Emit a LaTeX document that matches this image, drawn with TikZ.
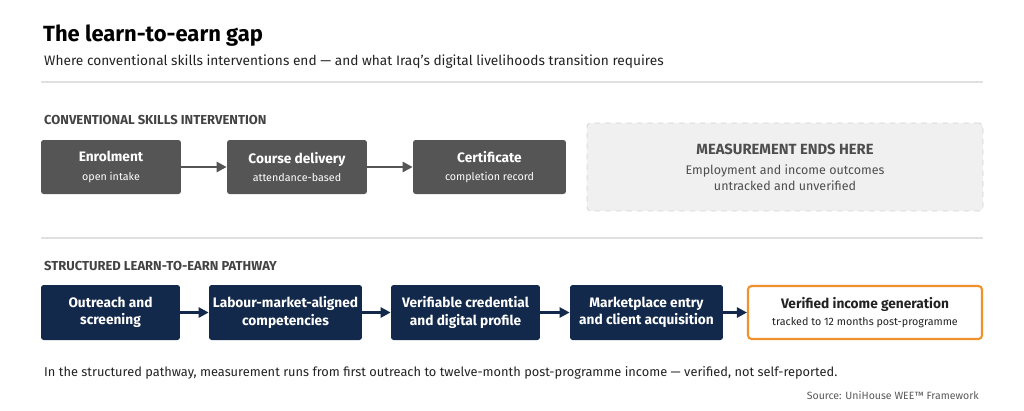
\documentclass[tikz,border=0pt]{standalone}
\usepackage{fontspec}
\setmainfont{Fira Sans}
\usetikzlibrary{arrows.meta, positioning}
\definecolor{navy}{HTML}{13294B}
\definecolor{slate}{HTML}{555555}
\definecolor{amber}{HTML}{F0922B}
\definecolor{ink}{HTML}{222222}
\newcommand\steptitle[1]{{\fontsize{7.8}{9}\selectfont\bfseries #1}}
\newcommand\stepnote[1]{{\fontsize{6.1}{7}\selectfont #1}}
\begin{document}
\begin{tikzpicture}[x=0.02cm, y=-0.02cm,
    greybox/.style={rectangle, rounded corners=1.5pt, fill=slate, text=white, minimum height=1.08cm, align=center, inner sep=1pt, font=\fontsize{6}{7}\selectfont},
    navybox/.style={rectangle, rounded corners=1.5pt, fill=navy, text=white, minimum height=1.1cm, align=center, inner sep=1pt, font=\fontsize{7.8}{10}\selectfont\bfseries},
    endbox/.style={rectangle, rounded corners=2pt, draw=amber, line width=1.2pt, fill=white, text=ink, minimum height=1.06cm, align=center, inner sep=1pt, font=\fontsize{6}{7}\selectfont},
    sectlabel/.style={anchor=west, text=ink!85, font=\fontsize{7.4}{8}\selectfont\bfseries},
    arrow/.style={-{Triangle[length=2mm, width=2mm]}, line width=1.5pt},
    rule/.style={draw=black!12, line width=0.6pt}
]
    \useasboundingbox (0,0) rectangle (1024,410);

    % Title
    \node[anchor=west, text=black, font=\fontsize{12.5}{14}\selectfont\bfseries] (title) at (37,36) {The learn-to-earn gap};
    \node[anchor=west, text=ink, font=\fontsize{7.8}{9}\selectfont] (subtitle) at (38,62) {Where conventional skills interventions end — and what Iraq's digital livelihoods transition requires};
    \draw[rule] (41,82) -- (983,82);

    % Conventional row
    \node[sectlabel] (conv) at (38,120) {CONVENTIONAL SKILLS INTERVENTION};
    \node[greybox, minimum width=2.8cm] (enrol) at (111,167) {\steptitle{Enrolment}\\[3.5pt]\stepnote{open intake}};
    \node[greybox, minimum width=2.8cm] (course) at (297,167) {\steptitle{Course delivery}\\[3.5pt]\stepnote{attendance-based}};
    \node[greybox, minimum width=3.06cm] (cert) at (489.5,167) {\steptitle{Certificate}\\[3.5pt]\stepnote{completion record}};
    \node[rectangle, rounded corners=2pt, draw=black!18, dashed, fill=black!6, minimum width=7.92cm, minimum height=1.76cm, align=center, text=ink!80, font=\fontsize{7.1}{8.8}\selectfont] (ends) at (785,167)
        {{\fontsize{8.4}{10}\selectfont\bfseries MEASUREMENT ENDS HERE}\\[3pt]Employment and income outcomes\\untracked and unverified};
    \draw[arrow, slate] (enrol) -- (course);
    \draw[arrow, slate] (course) -- (cert);

    \draw[rule] (41,238) -- (983,238);

    % Structured pathway
    \node[sectlabel] (path) at (38,266) {STRUCTURED LEARN-TO-EARN PATHWAY};
    \node[navybox, minimum width=2.78cm] (outreach) at (110.5,312.5) {Outreach and\\screening};
    \node[navybox, minimum width=3.06cm] (labour) at (285.5,312.5) {Labour-market-aligned\\competencies};
    \node[navybox, minimum width=2.98cm] (cred) at (465.5,312.5) {Verifiable credential\\and digital profile};
    \node[navybox, minimum width=3.06cm] (market) at (646.5,312.5) {Marketplace entry\\and client acquisition};
    \node[endbox, minimum width=4.68cm] (income) at (865,312.5) {\steptitle{Verified income generation}\\[3pt]\stepnote{tracked to 12 months post-programme}};
    \draw[arrow, navy] (outreach) -- (labour);
    \draw[arrow, navy] (labour) -- (cred);
    \draw[arrow, navy] (cred) -- (market);
    \draw[arrow, navy] (market) -- (income);

    % Footer
    \node[anchor=west, text=ink, font=\fontsize{7.3}{8}\selectfont] (note) at (38,373) {In the structured pathway, measurement runs from first outreach to twelve-month post-programme income — verified, not self-reported.};
    \node[anchor=east, text=ink!75, font=\fontsize{6}{7}\selectfont] (source) at (985,395) {Source: UniHouse WEE™ Framework};
\end{tikzpicture}
\end{document}
